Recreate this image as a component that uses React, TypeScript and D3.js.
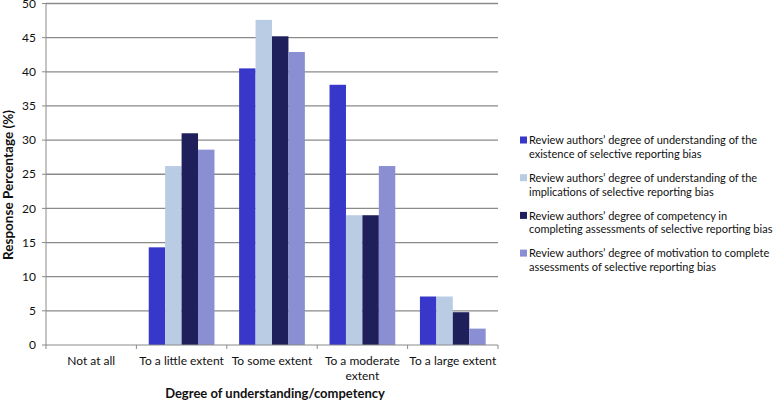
import * as d3 from 'd3';
import React, { ReactElement } from 'react';

const categories = ['Not at all', 'To a little extent', 'To some extent', 'To a moderate extent', 'To a large extent'];
const seriesNames = [
  'Review authors\u2019 degree of understanding of the existence of selective reporting bias',
  'Review authors\u2019 degree of understanding of the implications of selective reporting bias',
  'Review authors\u2019 degree of competency in completing assessments of selective reporting bias',
  'Review authors\u2019 degree of motivation to complete assessments of selective reporting bias',
];
const legendLines = [
  ['Review authors\u2019 degree of understanding of the', 'existence of selective reporting bias'],
  ['Review authors\u2019 degree of understanding of the', 'implications of selective reporting bias'],
  ['Review authors\u2019 degree of competency in', 'completing assessments of selective reporting bias'],
  ['Review authors\u2019 degree of motivation to complete', 'assessments of selective reporting bias'],
];
const existence = [0, 14.3, 40.5, 38.1, 7.1];
const implications = [0, 26.2, 47.6, 19.0, 7.1];
const competency = [0, 31.0, 45.2, 19.0, 4.8];
const motivation = [0, 28.6, 42.9, 26.2, 2.4];
const yTicks = [0, 5, 10, 15, 20, 25, 30, 35, 40, 45, 50];
const colors = ['#3737c9', '#b9cce4', '#1f1f5c', '#8a8ed2'];

const W = 778;
const H = 402;
const FONT = 'Lato, "Open Sans", sans-serif';

const App = (): ReactElement => {
  const series = [existence, implications, competency, motivation];
  const x = d3.scaleBand<string>().domain(categories).range([46, 498]);
  const inner = d3
    .scaleBand<number>()
    .domain(d3.range(series.length))
    .range([0, x.bandwidth()])
    .paddingOuter(0.75);
  const y = d3.scaleLinear().domain([0, 50]).range([345, 3.5]);

  return (
    <svg width={W} height={H} style={{ display: 'block', position: 'absolute', left: 0, top: 0 }}>
      <rect width={W} height={H} fill="#fff" />
      {yTicks.map((t) => (
        <g key={t}>
          {t > 0 && <line x1={46} x2={498} y1={y(t)} y2={y(t)} stroke="#8a8a8a" strokeWidth={1.3} />}
          <line x1={42} x2={46} y1={y(t)} y2={y(t)} stroke="#8a8a8a" />
          <text x={36} y={y(t)} dy="0.35em" textAnchor="end" fontFamily={FONT} fontSize={12} fill="#111">
            {t}
          </text>
        </g>
      ))}
      {categories.map((c, i) =>
        series.map((s, j) => (
          <rect
            key={`${c}-${j}`}
            x={(x(c) as number) + (inner(j) as number)}
            y={y(s[i])}
            width={inner.bandwidth()}
            height={y(0) - y(s[i])}
            fill={colors[j]}
          >
            <title>{`${seriesNames[j]}: ${s[i]}`}</title>
          </rect>
        )),
      )}
      <line x1={46} x2={46} y1={3} y2={345} stroke="#8a8a8a" />
      <line x1={46} x2={498} y1={345} y2={345} stroke="#8a8a8a" />
      {[...categories.map((c) => x(c) as number), 498].map((tx, i) => (
        <line key={i} x1={tx} x2={tx} y1={345} y2={349} stroke="#8a8a8a" />
      ))}
      {categories.map((c) => {
        const cx = (x(c) as number) + x.bandwidth() / 2;
        const lines = c === 'To a moderate extent' ? ['To a moderate', 'extent'] : [c];
        return (
          <text key={c} x={cx} y={361} textAnchor="middle" fontFamily={FONT} fontSize={12} fill="#111">
            {lines.map((l, k) => (
              <tspan key={k} x={cx} dy={k === 0 ? '0.35em' : 14.5}>
                {l}
              </tspan>
            ))}
          </text>
        );
      })}
      <text
        x={275}
        y={398}
        textAnchor="middle"
        fontFamily={FONT}
        fontSize={13}
        fontWeight="bold"
        fill="#111"
      >
        Degree of understanding/competency
      </text>
      <text
        transform={`translate(8, 185) rotate(-90)`}
        textAnchor="middle"
        dy="0.35em"
        fontFamily={FONT}
        fontSize={13.5}
        fontWeight="bold"
        fill="#111"
      >
        Response Percentage (%)
      </text>
      {legendLines.map((lines, i) => {
        const ly = 140.5 + i * 37.7;
        return (
          <g key={i}>
            <rect x={520} y={ly - 4} width={7} height={7} fill={colors[i]} />
            <text x={529} y={ly} fontFamily={FONT} fontSize={11} fill="#111">
              {lines.map((l, k) => (
                <tspan key={k} x={529} dy={k === 0 ? '0.35em' : 13.6}>
                  {l}
                </tspan>
              ))}
            </text>
          </g>
        );
      })}
    </svg>
  );
};

export default App;
